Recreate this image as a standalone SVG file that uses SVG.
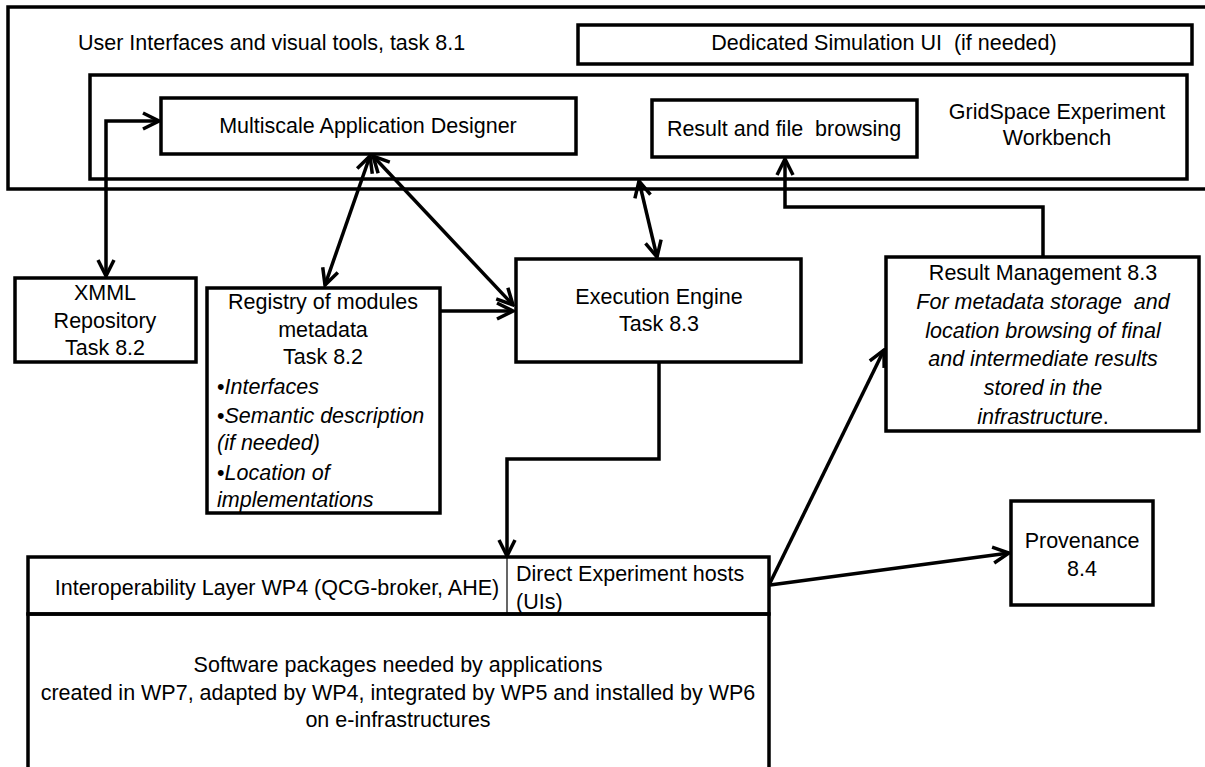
<svg xmlns="http://www.w3.org/2000/svg" width="1205" height="767" viewBox="0 0 1205 767">
<style>
.box{fill:none;stroke:#000;stroke-width:3.5}
.thin{fill:none;stroke:#000;stroke-width:1.2}
text{font-family:"Liberation Sans",Arial,sans-serif;font-size:21.5px;fill:#000;white-space:pre}
.c{text-anchor:middle}
.i{font-style:italic}
.conn path{fill:none;stroke:#000;stroke-width:3.5}
</style>
<defs>
<marker id="arr" viewBox="0 0 20 20" refX="18" refY="10" markerWidth="20" markerHeight="20" markerUnits="userSpaceOnUse" orient="auto-start-reverse">
<path d="M2,2 L18,10 L2,18" fill="none" stroke="#000" stroke-width="3.5"/>
</marker>
</defs>
<rect width="1205" height="767" fill="#fff"/>

<g id="ui-container">
<rect class="box" x="8" y="7" width="1210" height="182"/>
<text x="78" y="50">User Interfaces and visual tools, task 8.1</text>
</g>
<g id="dedicated-ui">
<rect class="box" x="578" y="25" width="614" height="39"/>
<text class="c" x="884" y="50">Dedicated Simulation UI  (if needed)</text>
</g>
<g id="gridspace">
<rect class="box" x="90" y="75" width="1097" height="104"/>
<text class="c" x="1057" y="119">GridSpace Experiment</text>
<text class="c" x="1057" y="145">Workbench</text>
</g>
<g id="designer">
<rect class="box" x="161" y="98" width="415" height="56"/>
<text class="c" x="368" y="133">Multiscale Application Designer</text>
</g>
<g id="result-browsing">
<rect class="box" x="652" y="100" width="265" height="57"/>
<text class="c" x="784" y="136">Result and file  browsing</text>
</g>
<g id="xmml">
<rect class="box" x="15" y="278" width="181" height="84"/>
<text class="c" x="105" y="300">XMML</text>
<text class="c" x="105" y="328">Repository</text>
<text class="c" x="105" y="355">Task 8.2</text>
</g>
<g id="registry">
<rect class="box" x="207" y="288" width="233" height="225"/>
<text class="c" x="323" y="309">Registry of modules</text>
<text class="c" x="323" y="337">metadata</text>
<text class="c" x="323" y="364">Task 8.2</text>
<text x="217" y="394">•<tspan class="i">Interfaces</tspan></text>
<text x="217" y="423">•<tspan class="i">Semantic description</tspan></text>
<text class="i" x="217" y="450">(if needed)</text>
<text x="217" y="480">•<tspan class="i">Location of</tspan></text>
<text class="i" x="217" y="507">implementations</text>
</g>
<g id="execution-engine">
<rect class="box" x="516" y="259" width="285" height="103"/>
<text class="c" x="659" y="304">Execution Engine</text>
<text class="c" x="659" y="331">Task 8.3</text>
</g>
<g id="result-management">
<rect class="box" x="886" y="257" width="313" height="174"/>
<text class="c" x="1043" y="280">Result Management 8.3</text>
<text class="c i" x="1043" y="309">For metadata storage  and</text>
<text class="c i" x="1043" y="338">location browsing of final</text>
<text class="c i" x="1043" y="366">and intermediate results</text>
<text class="c i" x="1043" y="395">stored in the</text>
<text class="c" x="1043" y="424"><tspan class="i">infrastructure</tspan>.</text>
</g>
<g id="provenance">
<rect class="box" x="1011" y="501" width="142" height="104"/>
<text class="c" x="1082" y="548">Provenance</text>
<text class="c" x="1082" y="576">8.4</text>
</g>
<g id="interop">
<rect class="box" x="28" y="557" width="741" height="57"/>
<line class="thin" x1="507" y1="557" x2="507" y2="614"/>
<text class="c" x="277" y="595">Interoperability Layer WP4 (QCG-broker, AHE)</text>
</g>
<g id="direct-hosts">
<text x="516" y="581">Direct Experiment hosts</text>
<text x="516" y="609">(UIs)</text>
</g>
<g id="software">
<rect class="box" x="28" y="614" width="741" height="160"/>
<text class="c" x="398" y="672">Software packages needed by applications</text>
<text class="c" x="398" y="700">created in WP7, adapted by WP4, integrated by WP5 and installed by WP6</text>
<text class="c" x="398" y="727">on e-infrastructures</text>
</g>

<g id="connectors" class="conn">
<path d="M106,276 L106,121 L159,121" marker-start="url(#arr)" marker-end="url(#arr)"/>
<path d="M370,156 L325,285" marker-start="url(#arr)" marker-end="url(#arr)"/>
<path d="M373,156 L513,305" marker-start="url(#arr)" marker-end="url(#arr)"/>
<path d="M440,311 L513,311" marker-end="url(#arr)"/>
<path d="M639,181 L657,257" marker-start="url(#arr)" marker-end="url(#arr)"/>
<path d="M659,362 L659,459 L507,459 L507,556" marker-end="url(#arr)"/>
<path d="M1043,257 L1043,207 L785,207 L785,159" marker-end="url(#arr)"/>
<path d="M770,583 L884,350" marker-end="url(#arr)"/>
<path d="M770,585 L1009,553" marker-end="url(#arr)"/>
</g>
</svg>
